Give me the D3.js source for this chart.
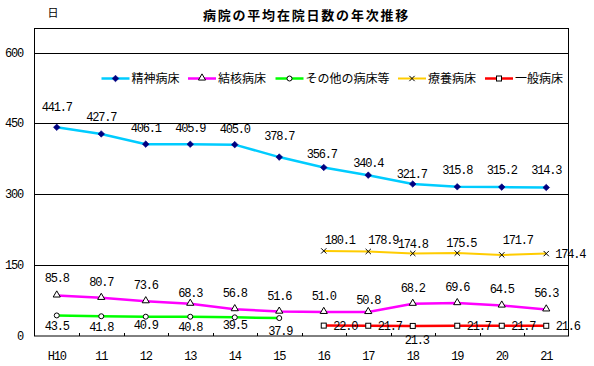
<!DOCTYPE html>
<html><head><meta charset="utf-8">
<script src="https://cdn.jsdelivr.net/npm/d3@7"></script>
<style>
body{margin:0;background:#fff;}
svg{display:block;}
.num{font-family:"Liberation Mono","DejaVu Sans Mono",monospace;font-size:12px;letter-spacing:-1.2px;fill:#000;}
.jp{font-family:"Noto Sans CJK JP","Noto Sans",sans-serif;fill:#000;}
</style>
</head><body>
<svg id="chart" width="594" height="366"></svg>
<script>
// ---- data ----
const categories = ["H10","11","12","13","14","15","16","17","18","19","20","21"];
const seishin = [441.7,427.7,406.1,405.9,405.0,378.7,356.7,340.4,321.7,315.8,315.2,314.3];
const kekkaku = [85.8,80.7,73.6,68.3,56.8,51.6,51.0,50.8,68.2,69.6,64.5,56.3];
const sonota  = [43.5,41.8,40.9,40.8,39.5,37.9,null,null,null,null,null,null];
const ryoyo   = [null,null,null,null,null,null,180.1,178.9,174.8,175.5,171.7,174.4];
const ippan   = [null,null,null,null,null,null,22.0,21.7,21.3,21.7,21.7,21.6];
const seriesNames = ["精神病床","結核病床","その他の病床等","療養病床","一般病床"];
const yTicks = [0,150,300,450,600];
const titleText = "病院の平均在院日数の年次推移";
const unitText = "日";

// ---- label placement nudges (relative to point) ----
const lblSeishin = {anchor:"middle", dx:[0,0,0,0,0,0,-2,0,-1,0,0,0], dy:[-16,-13,-12,-12,-12,-17,-9.5,-8,-6,-13,-13,-13.5]};
const lblKekkaku = {anchor:"middle", dx:[0,0,0,0,0,0,0,0,0,0,0,0], dy:[-13,-12,-12,-7,-12,-12,-12,-8,-12,-12,-12.5,-12]};
const lblSonota  = {anchor:"middle", dx:[0,0,0,0,0,1], dy:[14.5,15,12.5,14,12,17]};
const lblRyoyo   = {anchor:["middle","middle","middle","middle","middle","start"], dx:[16,15,0,4,16,9], dy:[-7,-7.5,-5.5,-6,-11,4]};
const lblIppan   = {anchor:["start","start","middle","start","start","start"], dx:[9.5,9.5,4,9.5,9.5,9.5], dy:[4,4,18.5,4,4,4]};

const svg = d3.select("#chart");
const L = 34.5, R = 568.5, T = 28.5, B = 336;
const x = d3.scalePoint().domain(categories).range([L, R]).padding(0.5);
const y = d3.scaleLinear().domain([0, 650]).range([B, 28.9]);

// title & unit
svg.append("text").attr("class","jp").attr("x",306.5).attr("y",19.5)
  .attr("text-anchor","middle").attr("font-size","13px").attr("font-weight","bold")
  .attr("letter-spacing","1.8px").text(titleText);
svg.append("text").attr("class","jp").attr("x",53).attr("y",17)
  .attr("text-anchor","middle").attr("font-size","11px").text(unitText);

// frame and gridlines
svg.append("rect").attr("x",L).attr("y",T).attr("width",R-L).attr("height",B-T)
  .attr("fill","none").attr("stroke","#000").attr("stroke-width",1);
svg.append("g").selectAll("line").data(yTicks.filter(d=>d>0)).join("line")
  .attr("x1",L).attr("x2",R).attr("y1",d=>Math.round(y(d))+0.5).attr("y2",d=>Math.round(y(d))+0.5)
  .attr("stroke","#000").attr("stroke-width",1);

// y axis labels
svg.append("g").selectAll("text").data(yTicks).join("text")
  .attr("class","num").attr("x",23).attr("y",d=>y(d)+4).attr("text-anchor","end")
  .text(d=>d);

// x axis: ticks at category boundaries (inside), labels
const step = x.step();
const bounds = d3.range(1, categories.length);
svg.append("g").selectAll("line").data(bounds).join("line")
  .attr("x1",i=>Math.round(L+i*step)+0.5).attr("x2",i=>Math.round(L+i*step)+0.5)
  .attr("y1",B-3).attr("y2",B).attr("stroke","#000");
svg.append("g").selectAll("text").data(categories).join("text")
  .attr("class","num").attr("x",d=>x(d)).attr("y",359.5).attr("text-anchor","middle")
  .text(d=>d);

// series definitions
const series = [
  {name:seriesNames[0], values:seishin, color:"#00CCFF", width:2.5, marker:"diamond", lbl:lblSeishin},
  {name:seriesNames[1], values:kekkaku, color:"#FF00FF", width:2.5, marker:"triangle", lbl:lblKekkaku},
  {name:seriesNames[2], values:sonota, color:"#00FF00", width:2.5, marker:"circle", lbl:lblSonota},
  {name:seriesNames[3], values:ryoyo, color:"#FFCC00", width:2, marker:"x", lbl:lblRyoyo},
  {name:seriesNames[4], values:ippan, color:"#FF0000", width:2.5, marker:"square", lbl:lblIppan}
];

function drawMarker(g, type, cx, cy){
  if(type==="diamond"){
    g.append("path").attr("d","M0,-3.3L3.3,0L0,3.3L-3.3,0Z").attr("transform",`translate(${cx},${cy})`)
      .attr("fill","#000080").attr("stroke","#000080").attr("stroke-width",0.6);
  } else if(type==="triangle"){
    g.append("path").attr("d",d3.symbol(d3.symbolTriangle,22)()).attr("transform",`translate(${cx},${cy-0.5})`)
      .attr("fill","#fff").attr("stroke","#000").attr("stroke-width",1);
  } else if(type==="circle"){
    g.append("circle").attr("cx",cx).attr("cy",cy).attr("r",2.5)
      .attr("fill","#fff").attr("stroke","#000").attr("stroke-width",1);
  } else if(type==="square"){
    g.append("rect").attr("x",cx-2.5).attr("y",cy-2.5).attr("width",5).attr("height",5)
      .attr("fill","#fff").attr("stroke","#000").attr("stroke-width",1);
  } else if(type==="x"){
    g.append("path").attr("d",d3.symbol(d3.symbolX,20)()).attr("transform",`translate(${cx},${cy})`)
      .attr("fill","none").attr("stroke","#000").attr("stroke-width",1);
  }
}

const line = d3.line().defined(d=>d.v!=null).x(d=>x(d.c)).y(d=>y(d.v));
const gLines = svg.append("g");
const gMarks = svg.append("g");
const gLbls = svg.append("g");
series.forEach(s=>{
  const pts = categories.map((c,i)=>({c, v:s.values[i]}));
  gLines.append("path").datum(pts).attr("d",line).attr("fill","none")
    .attr("stroke",s.color).attr("stroke-width",s.width);
  const valid = pts.filter(p=>p.v!=null);
  valid.forEach((p,k)=>{
    drawMarker(gMarks, s.marker, x(p.c), y(p.v));
    const anchor = Array.isArray(s.lbl.anchor) ? s.lbl.anchor[k] : s.lbl.anchor;
    gLbls.append("text").attr("class","num")
      .attr("x", x(p.c) + s.lbl.dx[k]).attr("y", y(p.v) + s.lbl.dy[k])
      .attr("text-anchor", anchor).text(p.v.toFixed(1));
  });
});

// legend
const legendX = [101.5, 188, 275.5, 398, 485];
const legendY = 78.5;
const gLeg = svg.append("g");
series.forEach((s,i)=>{
  const lx = legendX[i];
  gLeg.append("line").attr("x1",lx).attr("x2",lx+28).attr("y1",legendY).attr("y2",legendY)
    .attr("stroke",s.color).attr("stroke-width",s.width);
  drawMarker(gLeg, s.marker, lx+14, legendY);
  gLeg.append("text").attr("class","jp").attr("x",lx+30).attr("y",legendY+4.5)
    .attr("font-size","12px").text(s.name);
});
</script>
</body></html>
